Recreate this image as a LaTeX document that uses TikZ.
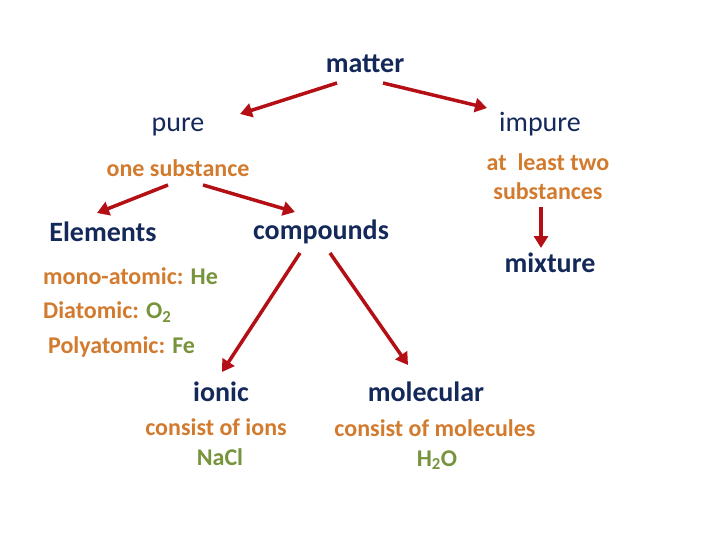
\documentclass[tikz,border=0pt]{standalone}
\usepackage{fontspec}
\setmainfont{Carlito}
\usetikzlibrary{arrows.meta}
\definecolor{navy}{HTML}{14295A}
\definecolor{orng}{HTML}{D27B2E}
\definecolor{grn}{HTML}{77933C}
\definecolor{arred}{HTML}{B40F14}
\tikzset{
  head/.style={text=navy,font=\fontsize{28}{32}\selectfont\bfseries,inner sep=0pt},
  headr/.style={text=navy,font=\fontsize{28}{32}\selectfont,inner sep=0pt},
  desc/.style={text=orng,font=\fontsize{24}{29}\selectfont\bfseries,inner sep=0pt,align=center},
  ex/.style={text=grn,font=\fontsize{24}{28}\selectfont\bfseries,inner sep=0pt},
  arr/.style={draw=arred,line width=3.5pt,-{Triangle[length=12pt,width=14pt]}}
}
\begin{document}
\begin{tikzpicture}[x=1pt,y=-1pt]
\useasboundingbox (0,0) rectangle (720,540);
\node[head] (matter) at (365,64) {matter};
\node[headr] (pure) at (178,127) {pure};
\node[headr] (impure) at (540,124) {impure};
\node[desc] (onesub) at (178,168) {one substance};
\node[desc] (atleast) at (548,177) {at\ \ least two\\substances};
\node[head] (elements) at (103,232) {Elements};
\node[head] (compounds) at (321,232) {compounds};
\node[head] (mixture) at (550,263) {mixture};
\node[desc,anchor=west] (mono) at (43,276) {mono-atomic: \textcolor{grn}{He}};
\node[desc,anchor=west] (di) at (43,312) {Diatomic: \textcolor{grn}{O\textsubscript{2}}};
\node[desc,anchor=west] (poly) at (48,347) {Polyatomic: \textcolor{grn}{Fe}};
\node[head] (ionic) at (221,392) {ionic};
\node[head] (molecular) at (426,392) {molecular};
\node[desc] (ions) at (216,427) {consist of ions};
\node[ex] (nacl) at (220,457) {NaCl};
\node[desc] (molecules) at (435,428) {consist of molecules};
\node[ex] (water) at (437,460) {H\textsubscript{2}O};
\draw[arr] ([shift={(-28,19)}]matter.center) -- ([shift={(62,-13)}]pure.center);
\draw[arr] ([shift={(18,19)}]matter.center) -- ([shift={(-53,-16)}]impure.center);
\draw[arr] ([shift={(-10,17)}]onesub.center) -- ([shift={(-6,-19)}]elements.center);
\draw[arr] ([shift={(25,17)}]onesub.center) -- ([shift={(-26,-20)}]compounds.center);
\draw[arr] ([shift={(-7,30)}]atleast.center) -- ([shift={(-9,-15)}]mixture.center);
\draw[arr] ([shift={(-21,21)}]compounds.center) -- ([shift={(1,-20)}]ionic.center);
\draw[arr] ([shift={(9,21)}]compounds.center) -- ([shift={(-18,-27)}]molecular.center);
\end{tikzpicture}
\end{document}
